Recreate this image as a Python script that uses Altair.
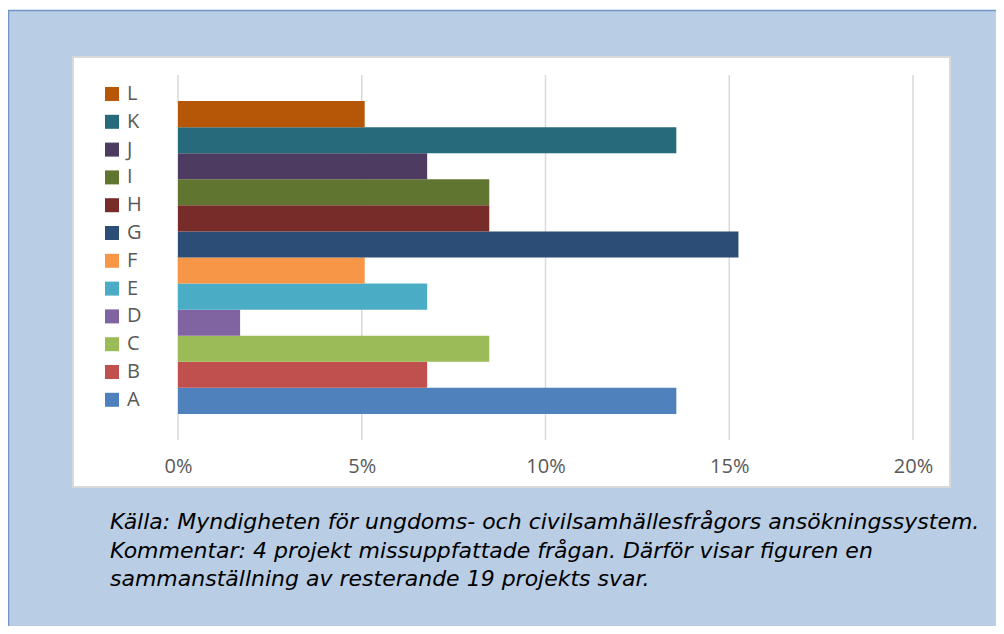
import altair as alt
import pandas as pd

# ---- data ----
categories = ["A", "B", "C", "D", "E", "F", "G", "H", "I", "J", "K", "L"]
shares = [0.1356, 0.0678, 0.0847, 0.0169, 0.0678, 0.0508,
          0.1525, 0.0847, 0.0847, 0.0678, 0.1356, 0.0508]
colors = ["#4F81BD", "#C0504D", "#9BBB59", "#8064A2", "#4BACC6", "#F79646",
          "#2C4D75", "#772C2A", "#5F7530", "#4D3B62", "#276A7C", "#B65708"]
tick_values = [0.0, 0.05, 0.10, 0.15, 0.20]
caption_lines = [
    "Källa: Myndigheten för ungdoms- och civilsamhällesfrågors ansökningssystem.",
    "Kommentar: 4 projekt missuppfattade frågan. Därför visar figuren en",
    "sammanställning av resterande 19 projekts svar.",
]

order = categories[::-1]
df = pd.DataFrame({"kategori": categories, "andel": shares})
grid_df = pd.DataFrame({"v": tick_values})
cap_df = pd.DataFrame({"rad": list(range(len(caption_lines))), "text": caption_lines})
one = pd.DataFrame({"k": [0]})

W, H = 735, 365
LABEL_FONT = "Open Sans"
CAP_FONT = "DejaVu Sans"

xscale = alt.Scale(domain=[0, 0.2], nice=False, zero=True)
xaxis = alt.Axis(values=tick_values, format="%", grid=False, domain=False,
                 ticks=False, labelFontSize=20, labelColor="#595959",
                 labelFont=LABEL_FONT, labelPadding=16, labelFlush=False,
                 title=None, zindex=1)

frame = alt.Chart(one).mark_rect(fill="#B9CDE5", stroke="#7096C8", strokeWidth=1.5).encode(
    x=alt.value(-169.5), x2=alt.value(900), y=alt.value(-64.5), y2=alt.value(700))

panel = alt.Chart(one).mark_rect(fill="white", stroke="#D9D9D9", strokeWidth=2).encode(
    x=alt.value(-105), x2=alt.value(772), y=alt.value(-18), y2=alt.value(412))

grid = alt.Chart(grid_df).mark_rule(color="#D9D9D9", strokeWidth=1.5).encode(
    x=alt.X("v:Q", scale=xscale, axis=xaxis),
    y=alt.value(0), y2=alt.value(H))

bars = alt.Chart(df).mark_bar(opacity=1).encode(
    x=alt.X("andel:Q", scale=xscale, axis=xaxis),
    y=alt.Y("kategori:N", sort=order,
            scale=alt.Scale(domain=order, paddingInner=0, paddingOuter=1), axis=None),
    color=alt.Color("kategori:N",
                    scale=alt.Scale(domain=order, range=colors[::-1]),
                    legend=alt.Legend(orient="none", legendX=-76, legendY=9,
                                      title=None, symbolType="square",
                                      symbolSize=196, symbolStrokeWidth=0,
                                      symbolOpacity=1, labelFontSize=20,
                                      labelColor="#595959", labelFont=LABEL_FONT,
                                      rowPadding=7.8, labelOffset=5, padding=0)),
)

caption = alt.Chart(cap_df).mark_text(
    align="left", baseline="middle", font=CAP_FONT, fontSize=22,
    fontStyle="italic", color="#000000").encode(
    x=alt.value(-68),
    y=alt.Y("rad:O", scale=alt.Scale(range=[447, 504], padding=0), axis=None),
    text="text:N")

chart = alt.layer(frame, panel, grid, bars, caption).resolve_scale(
    y="independent"
).properties(
    width=W, height=H,
    autosize=alt.AutoSizeParams(type="none"),
    padding={"left": 170, "top": 67, "right": 83, "bottom": 186},
    background="white",
).configure_view(stroke=None)

chart.save("out.html", embed_options={"renderer": "svg", "actions": False})
